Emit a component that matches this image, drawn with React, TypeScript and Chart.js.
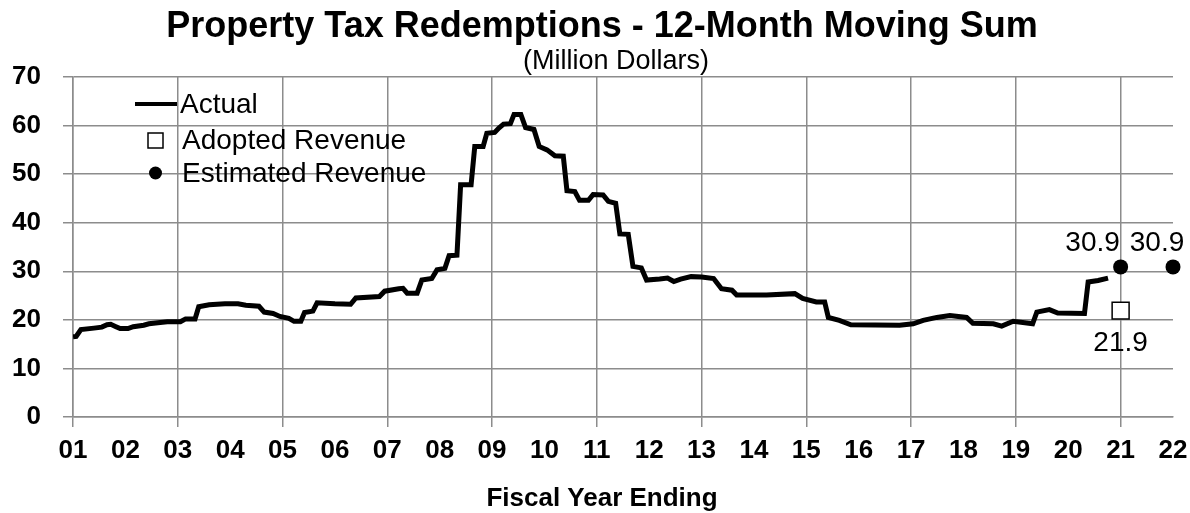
import React, { useEffect, useRef } from "react";
import { Chart, registerables } from "chart.js";

Chart.register(...registerables);

const TITLE = "Property Tax Redemptions - 12-Month Moving Sum";
const SUBTITLE = "(Million Dollars)";
const X_TITLE = "Fiscal Year Ending";

const yearLabels = [
  "01", "02", "03", "04", "05", "06", "07", "08", "09", "10", "11",
  "12", "13", "14", "15", "16", "17", "18", "19", "20", "21", "22",
];

const actualYears = [
  1.0, 1.06, 1.15, 1.4, 1.55, 1.65, 1.72, 1.82, 1.9, 2.05, 2.15, 2.35, 2.45, 2.62, 2.8,
  3.05, 3.15, 3.33, 3.4, 3.6, 3.9, 4.15, 4.3, 4.55, 4.65, 4.82, 4.95, 5.12, 5.22, 5.35,
  5.42, 5.58, 5.66, 6.0, 6.3, 6.4, 6.85, 6.95, 7.22, 7.3, 7.38, 7.57, 7.66, 7.85, 7.95,
  8.1, 8.18, 8.33, 8.4, 8.6, 8.67, 8.83, 8.9, 9.05, 9.13, 9.22, 9.35, 9.42, 9.55, 9.64,
  9.8, 9.9, 10.05, 10.2, 10.36, 10.43, 10.58, 10.67, 10.84, 10.93, 11.12, 11.22, 11.36,
  11.44, 11.6, 11.69, 11.85, 11.95, 12.2, 12.35, 12.47, 12.6, 12.8, 13.0, 13.23, 13.38,
  13.58, 13.67, 14.24, 14.78, 14.93, 15.19, 15.35, 15.42, 15.63, 15.85, 16.78, 17.04,
  17.23, 17.49, 17.74, 18.06, 18.18, 18.57, 18.73, 18.95, 19.32, 19.4, 19.64, 19.8,
  20.31, 20.38, 20.57, 20.76,
];

const actualValues = [
  16.5, 16.6, 18.0, 18.3, 18.5, 19.0, 19.1, 18.6, 18.2, 18.2, 18.6, 18.9, 19.2, 19.4, 19.6,
  19.6, 20.2, 20.2, 22.7, 23.1, 23.3, 23.3, 23.0, 22.8, 21.6, 21.3, 20.7, 20.3, 19.7, 19.7,
  21.5, 21.8, 23.5, 23.3, 23.2, 24.5, 24.8, 25.9, 26.4, 26.5, 25.5, 25.5, 28.2, 28.5, 30.3,
  30.6, 33.2, 33.3, 47.8, 47.8, 55.7, 55.7, 58.4, 58.6, 59.5, 60.3, 60.4, 62.3, 62.3, 59.6,
  59.2, 55.7, 55.0, 53.8, 53.7, 46.6, 46.4, 44.6, 44.6, 45.8, 45.7, 44.4, 44.0,
  37.7, 37.6, 31.0, 30.7, 28.2, 28.4, 28.6, 27.9, 28.4, 28.9, 28.8, 28.5, 26.4,
  26.1, 25.1, 25.1, 25.4, 24.4, 23.7, 23.7, 20.5, 19.9, 19.0, 18.9, 19.2,
  19.9, 20.5, 20.9, 20.5, 19.3, 19.2, 18.7, 19.7, 19.2, 21.6, 22.1, 21.4,
  21.3, 27.8, 28.1, 28.6,
];

const adoptedYears = [21];
const adoptedValues = [21.9];
const estimatedYears = [21, 22];
const estimatedValues = [30.9, 30.9];

const seriesNames = ["Actual", "Adopted Revenue", "Estimated Revenue"];

const FONT = "'Liberation Sans', Arial, Helvetica, sans-serif";
const GRID = "#8c8c8c";
const estLabelDx = [-28, -16];

const toPoints = (xs: number[], ys: number[]) => xs.map((x, i) => ({ x, y: ys[i] }));

const decorPlugin = {
  id: "decor",
  afterDraw(chart: any) {
    const ctx = chart.ctx as CanvasRenderingContext2D;
    ctx.save();
    ctx.fillStyle = "#000";
    ctx.textAlign = "center";
    ctx.textBaseline = "alphabetic";
    ctx.font = `bold 36px ${FONT}`;
    ctx.fillText(TITLE, 602, 37);
    ctx.font = `27px ${FONT}`;
    ctx.fillText(SUBTITLE, 616, 69);
    ctx.font = `bold 26px ${FONT}`;
    ctx.fillText(X_TITLE, 602, 506);

    // legend
    const lx = 135;
    const tx = 182;
    const rows = [104, 140, 173];
    ctx.font = `28px ${FONT}`;
    ctx.textAlign = "left";
    ctx.textBaseline = "middle";
    ctx.strokeStyle = "#000";
    ctx.lineWidth = 4;
    ctx.beginPath();
    ctx.moveTo(lx, rows[0]);
    ctx.lineTo(lx + 42, rows[0]);
    ctx.stroke();
    ctx.lineWidth = 1.5;
    ctx.fillStyle = "#fff";
    ctx.fillRect(148, rows[1] - 7, 15, 15);
    ctx.strokeRect(148, rows[1] - 7, 15, 15);
    ctx.fillStyle = "#000";
    ctx.beginPath();
    ctx.arc(155.5, rows[2], 6.5, 0, Math.PI * 2);
    ctx.fill();
    seriesNames.forEach((n, i) => ctx.fillText(n, i === 0 ? tx - 2 : tx, rows[i] + 1));

    // value labels
    ctx.font = `28px ${FONT}`;
    ctx.textAlign = "center";
    ctx.textBaseline = "middle";
    const estMeta = chart.getDatasetMeta(2);
    estMeta.data.forEach((pt: any, i: number) => {
      ctx.fillText(estimatedValues[i].toFixed(1), pt.x + estLabelDx[i], pt.y - 24);
    });
    const adMeta = chart.getDatasetMeta(1);
    adMeta.data.forEach((pt: any, i: number) => {
      ctx.fillText(adoptedValues[i].toFixed(1), pt.x, pt.y + 33);
    });
    ctx.restore();
  },
};

export default function App() {
  const ref = useRef<HTMLCanvasElement | null>(null);
  useEffect(() => {
    if (!ref.current) return;
    const oddColor = (c: any) => {
      const v = c.tick ? c.tick.value : 0;
      return Math.round(v) % 2 === 1 ? GRID : "rgba(0,0,0,0)";
    };
    const chart = new Chart(ref.current, {
      type: "line",
      data: {
        datasets: [
          {
            label: seriesNames[0],
            data: toPoints(actualYears, actualValues),
            borderColor: "#000",
            borderWidth: 5,
            pointRadius: 0,
            tension: 0,
            borderJoinStyle: "miter",
            fill: false,
          },
          {
            label: seriesNames[1],
            data: toPoints(adoptedYears, adoptedValues),
            showLine: false,
            pointStyle: "rect",
            pointRadius: 12,
            pointBorderWidth: 1.5,
            pointBorderColor: "#000",
            pointBackgroundColor: "#fff",
            clip: false,
          },
          {
            label: seriesNames[2],
            data: toPoints(estimatedYears, estimatedValues),
            showLine: false,
            pointStyle: "circle",
            pointRadius: 7.5,
            pointBorderWidth: 0,
            pointBackgroundColor: "#000",
            clip: false,
          },
        ] as any,
      },
      options: {
        responsive: false,
        animation: false,
        layout: { padding: { top: 77, right: 17, left: 0, bottom: 0 } },
        plugins: {
          legend: { display: false },
          title: { display: false },
          tooltip: { enabled: false },
        },
        scales: {
          x: {
            type: "linear",
            min: 1,
            max: 22,
            afterFit: (s: any) => {
              s.height = 96;
              s.paddingLeft = 0;
              s.paddingRight = 0;
            },
            ticks: {
              stepSize: 1,
              autoSkip: false,
              maxRotation: 0,
              padding: 8,
              color: "#000",
              font: { family: FONT, size: 26, weight: "bold" },
              callback: (v: any) => yearLabels[Math.round(v) - 1] ?? "",
            },
            grid: {
              color: oddColor,
              tickColor: oddColor,
              lineWidth: 1.5,
              tickLength: 10,
            },
            border: { color: GRID, width: 1.5 },
          },
          y: {
            min: 0,
            max: 70,
            afterFit: (s: any) => {
              s.width = 73;
              s.paddingTop = 0;
              s.paddingBottom = 0;
            },
            ticks: {
              stepSize: 10,
              padding: 22,
              color: "#000",
              font: { family: FONT, size: 26, weight: "bold" },
            },
            grid: { color: GRID, tickColor: GRID, lineWidth: 1.5, tickLength: 10 },
            border: { color: GRID, width: 1.5 },
          },
        },
      } as any,
      plugins: [decorPlugin],
    });
    return () => chart.destroy();
  }, []);
  return (
    <div style={{ position: "fixed", left: 0, top: 0, width: 1190, height: 513, background: "#fff" }}>
      <canvas ref={ref} width={1190} height={513} />
    </div>
  );
}
